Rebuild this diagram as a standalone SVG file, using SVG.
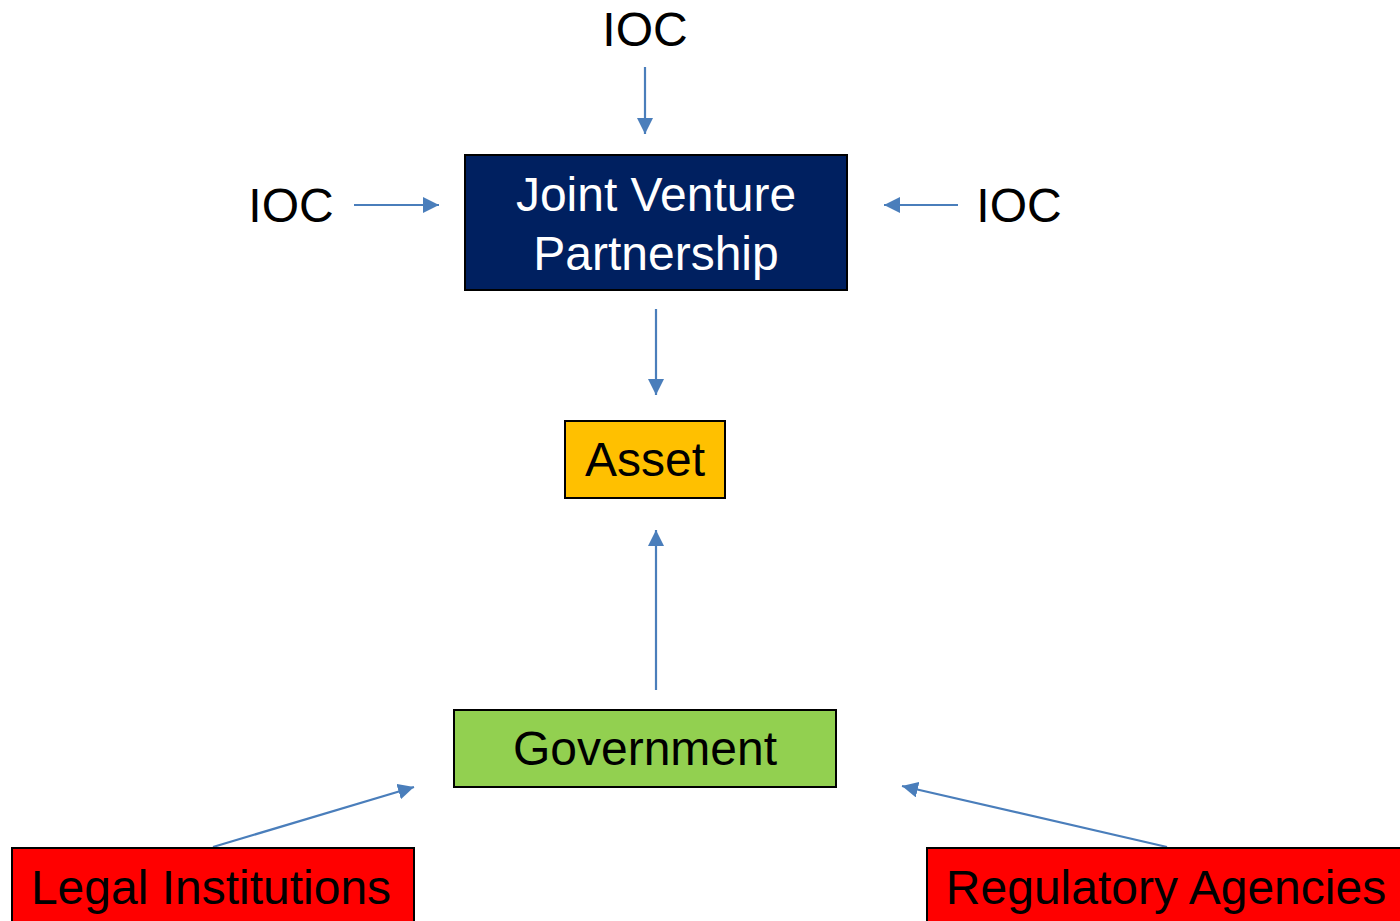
<svg xmlns="http://www.w3.org/2000/svg" width="1400" height="921" viewBox="0 0 1400 921">
<defs>
<style>
.t{font-family:"Liberation Sans",Arial,sans-serif;font-size:48px;text-anchor:middle;fill:#000}
.w{fill:#fff}
.box{stroke:#000;stroke-width:2}
.c{stroke:#4A7EBB;stroke-width:2.2;fill:none;marker-end:url(#ah)}
</style>
<marker id="ah" markerUnits="userSpaceOnUse" markerWidth="18" markerHeight="16" refX="16" refY="8" orient="auto">
<path d="M0,0 L16,8 L0,16 Z" fill="#4A7EBB"/>
</marker>
</defs>
<rect width="1400" height="921" fill="#fff"/>
<g id="connectors">
<line class="c" x1="645" y1="67" x2="645" y2="134"/>
<line class="c" x1="354" y1="205" x2="439" y2="205"/>
<line class="c" x1="958" y1="205" x2="884" y2="205"/>
<line class="c" x1="656" y1="309" x2="656" y2="395"/>
<line class="c" x1="656" y1="690" x2="656" y2="530"/>
<line class="c" x1="213" y1="847" x2="414" y2="787"/>
<line class="c" x1="1167" y1="847" x2="902" y2="786"/>
</g>
<g id="ioc-top"><text class="t" x="645" y="46">IOC</text></g>
<g id="ioc-left"><text class="t" x="291" y="222">IOC</text></g>
<g id="ioc-right"><text class="t" x="1019" y="222">IOC</text></g>
<g id="jv">
<rect class="box" x="465" y="155" width="382" height="135" fill="#002060"/>
<text class="t w" x="656" y="211">Joint Venture</text>
<text class="t w" x="656" y="270">Partnership</text>
</g>
<g id="asset">
<rect class="box" x="565" y="421" width="160" height="77" fill="#FFC000"/>
<text class="t" x="645" y="476">Asset</text>
</g>
<g id="government">
<rect class="box" x="454" y="710" width="382" height="77" fill="#92D050"/>
<text class="t" x="645" y="765">Government</text>
</g>
<g id="legal">
<rect class="box" x="12" y="848" width="402" height="80" fill="#FF0000"/>
<text class="t" x="211" y="904">Legal Institutions</text>
</g>
<g id="regulatory">
<rect class="box" x="927" y="848" width="480" height="80" fill="#FF0000"/>
<text class="t" x="1166" y="904">Regulatory Agencies</text>
</g>
</svg>
